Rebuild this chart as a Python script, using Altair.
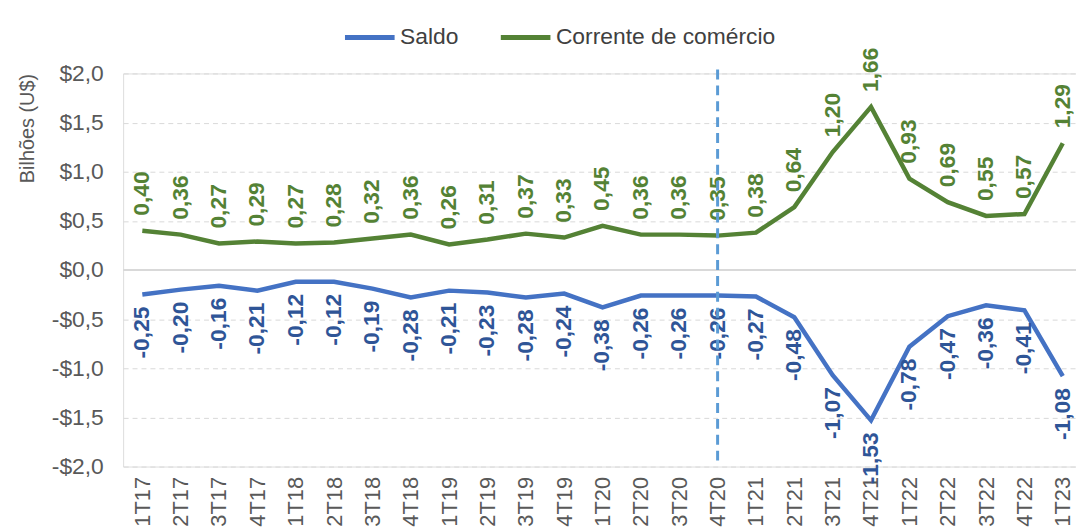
import altair as alt
import pandas as pd

quarters = ["1T17", "2T17", "3T17", "4T17", "1T18", "2T18", "3T18", "4T18",
            "1T19", "2T19", "3T19", "4T19", "1T20", "2T20", "3T20", "4T20",
            "1T21", "2T21", "3T21", "4T21", "1T22", "2T22", "3T22", "4T22", "1T23"]
saldo = [-0.25, -0.20, -0.16, -0.21, -0.12, -0.12, -0.19, -0.28,
         -0.21, -0.23, -0.28, -0.24, -0.38, -0.26, -0.26, -0.26,
         -0.27, -0.48, -1.07, -1.53, -0.78, -0.47, -0.36, -0.41, -1.08]
corrente = [0.40, 0.36, 0.27, 0.29, 0.27, 0.28, 0.32, 0.36,
            0.26, 0.31, 0.37, 0.33, 0.45, 0.36, 0.36, 0.35,
            0.38, 0.64, 1.20, 1.66, 0.93, 0.69, 0.55, 0.57, 1.29]
series_names = ["Saldo", "Corrente de comércio"]
series_colors = ["#4472C4", "#548235"]
label_colors = ["#2F5597", "#548235"]
y_ticks = [-2.0, -1.5, -1.0, -0.5, 0.0, 0.5, 1.0, 1.5, 2.0]
marker_quarter = ["4T20"]

rows = []
for q, s, c in zip(quarters, saldo, corrente):
    rows.append({"quarter": q, "serie": series_names[0], "value": s})
    rows.append({"quarter": q, "serie": series_names[1], "value": c})
df = pd.DataFrame(rows)

FONT = "Liberation Sans, Arial, sans-serif"
GRAY = "#595959"

x_scale = alt.Scale(type="point", padding=0.5, round=False)

x_enc = alt.X("quarter:N", sort=quarters, scale=x_scale,
              axis=alt.Axis(title=None, labelAngle=270, labelFontSize=22,
                            labelColor=GRAY, domain=False, ticks=False,
                            grid=False, labelPadding=10, labelFont=FONT))
y_enc = alt.Y("value:Q", scale=alt.Scale(domain=[-2, 2], nice=False, zero=False),
              axis=alt.Axis(values=y_ticks,
                            labelExpr="(datum.value < 0 ? '-' : '') + '$' + replace(format(abs(datum.value), '.1f'), '.', ',')",
                            gridDash=[5, 4], gridColor="#d9d9d9", gridWidth=1,
                            domain=False, ticks=False,
                            title="Bilhões (U$)", titleFontSize=20,
                            titleFontWeight="normal", titleColor=GRAY,
                            titleFont=FONT, titlePadding=14, titleAnchor="end",
                            labelFontSize=23, labelColor=GRAY, labelFont=FONT,
                            labelPadding=20))

base = alt.Chart(df)

lines = base.mark_line(strokeWidth=4.5).encode(
    x=x_enc, y=y_enc,
    color=alt.Color("serie:N",
                    scale=alt.Scale(domain=series_names, range=series_colors),
                    legend=alt.Legend(title=None, orient="none", legendX=221,
                                      legendY=-64, direction="horizontal",
                                      symbolType="stroke", symbolSize=2500,
                                      symbolStrokeWidth=5, labelFontSize=23,
                                      labelColor="#404040", labelFont=FONT,
                                      labelLimit=0,
                                      columnPadding=32, labelOffset=3)),
)

label_expr = "(datum.value < 0 ? '-' : '') + replace(format(abs(datum.value), '.2f'), '.', ',')"

green_labels = base.transform_filter(
    alt.datum.serie == series_names[1]
).transform_calculate(lbl=label_expr).mark_text(
    angle=270, align="left", baseline="middle", dx=15,
    fontSize=23, fontWeight="bold", font=FONT, color=label_colors[1]
).encode(x=alt.X("quarter:N", sort=quarters, scale=x_scale), y="value:Q", text="lbl:N")

blue_labels = base.transform_filter(
    alt.datum.serie == series_names[0]
).transform_calculate(lbl=label_expr).mark_text(
    angle=270, align="right", baseline="middle", dx=-12,
    fontSize=23, fontWeight="bold", font=FONT, color=label_colors[0]
).encode(x=alt.X("quarter:N", sort=quarters, scale=x_scale), y="value:Q", text="lbl:N")

zero_rule = alt.Chart(pd.DataFrame({"value": [0.0]})).mark_rule(
    color="#d9d9d9", strokeWidth=2
).encode(y="value:Q")

marker = alt.Chart(pd.DataFrame({"quarter": marker_quarter})).mark_rule(
    color="#5B9BD5", strokeDash=[10, 6], strokeWidth=3
).encode(x=alt.X("quarter:N", sort=quarters, scale=x_scale),
         y=alt.datum(2.04), y2=alt.datum(-2.0))

chart = alt.layer(zero_rule, lines, green_labels, blue_labels, marker).properties(
    width=966, height=396,
    autosize=alt.AutoSizeParams(type="none"),
    padding={"left": 116, "top": 64, "right": -6, "bottom": 63},
).configure_view(stroke=None).configure(font=FONT, background="white")

chart.save("out.html", embed_options={"renderer": "svg", "actions": False})
